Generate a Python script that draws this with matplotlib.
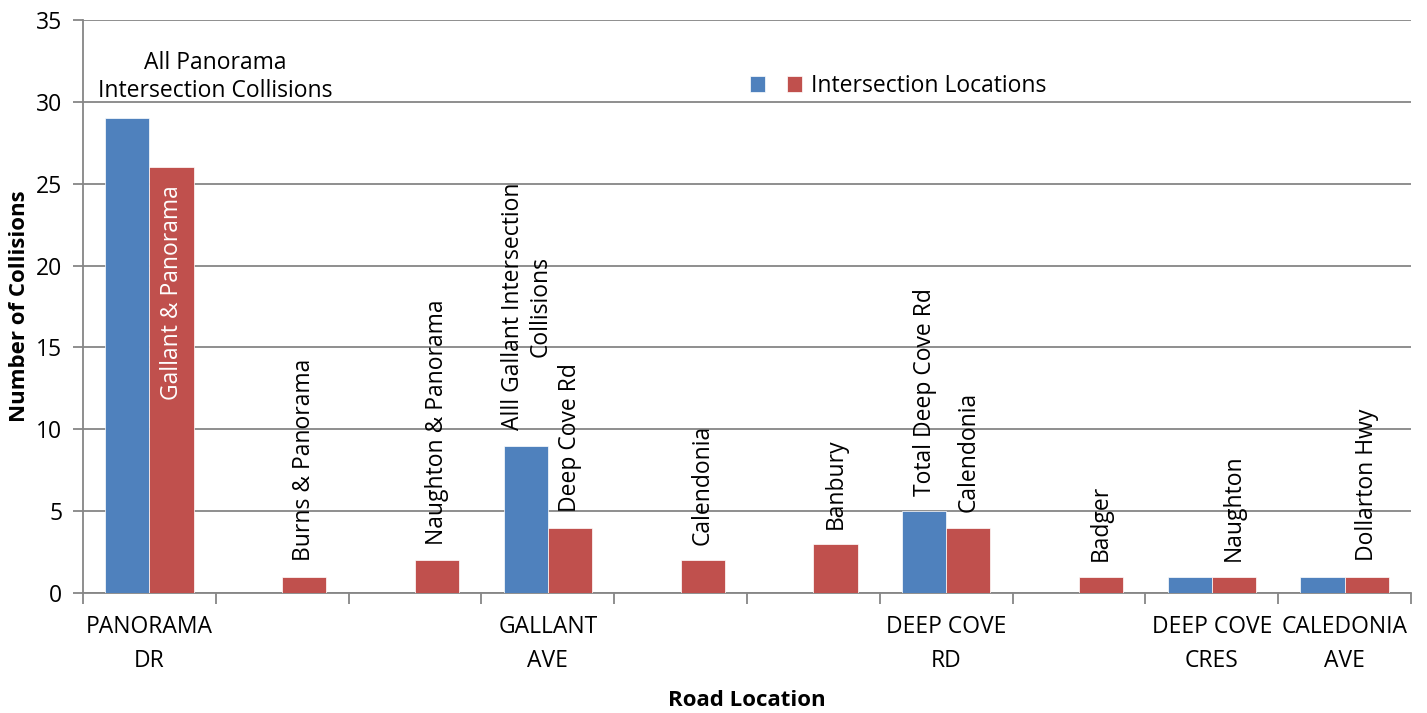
import matplotlib
matplotlib.use("Agg")
import matplotlib.pyplot as plt
import numpy as np

categories = ["PANORAMA\nDR", "", "", "GALLANT\nAVE", "", "", "DEEP COVE\nRD", "", "DEEP COVE\nCRES", "CALEDONIA\nAVE"]
blue_values = [29, 0, 0, 9, 0, 0, 5, 0, 1, 1]
red_values = [26, 1, 2, 4, 2, 3, 4, 1, 1, 1]
blue_labels = ["All Panorama\nIntersection Collisions", "", "", "Alll Gallant Intersection\nCollisions", "", "", "Total Deep Cove Rd", "", "", ""]
red_labels = ["Gallant & Panorama", "Burns & Panorama", "Naughton & Panorama", "Deep Cove Rd", "Calendonia",
              "Banbury", "Calendonia", "Badger", "Naughton", "Dollarton Hwy"]
legend_label = "Intersection Locations"
y_ticks = [0, 5, 10, 15, 20, 25, 30, 35]

BLUE = "#4F81BD"
RED = "#C0504D"
GRID = "#868686"
FS = 16.5

plt.rcParams['font.family'] = ['Open Sans', 'DejaVu Sans']

fig = plt.figure(figsize=(14.27, 7.13), dpi=100)
ax = fig.add_axes([83/1427, 120/713, (1411-83)/1427, (593-20)/713])

x = np.arange(len(categories))
w = 1/3
bb = ax.bar(x - w/2, blue_values, w, color=BLUE, edgecolor='white', linewidth=0.5, label=" ", zorder=3)
rb = ax.bar(x + w/2, red_values, w, color=RED, edgecolor='white', linewidth=0.5, label=legend_label, zorder=3)

ax.set_xlim(-0.5, len(categories) - 0.5)
ax.set_ylim(0, 35)
ax.set_yticks(y_ticks)
ax.yaxis.grid(True, color=GRID, linewidth=1.3, zorder=0)
ax.set_axisbelow(True)

ax.set_xticks(x)
ax.set_xticklabels(categories, fontsize=FS, linespacing=1.55)
ax.set_xticks(np.arange(len(categories) + 1) - 0.5, minor=True)
ax.tick_params(axis='x', which='major', length=0, pad=16)
ax.tick_params(axis='x', which='minor', length=8, width=1.3, color=GRID)
ax.tick_params(axis='y', length=7, width=1.3, color=GRID, labelsize=FS, pad=8)

for s in ['top', 'right']:
    ax.spines[s].set_visible(False)
for s in ['left', 'bottom']:
    ax.spines[s].set_color(GRID)
    ax.spines[s].set_linewidth(1.3)

# red labels
for i, (v, lab) in enumerate(zip(red_values, red_labels)):
    if v > 15:
        ax.annotate(lab, (x[i] + w/2, v), xytext=(0, -13), textcoords='offset points',
                    rotation=90, ha='center', va='top', fontsize=FS, color='white', zorder=5)
    else:
        ax.annotate(lab, (x[i] + w/2, v), xytext=(0, 11), textcoords='offset points',
                    rotation=90, ha='center', va='bottom', fontsize=FS, color='black', zorder=5)

# blue labels
for i, (v, lab) in enumerate(zip(blue_values, blue_labels)):
    if not lab:
        continue
    if v > 15:
        ax.annotate(lab, (x[i] - w/2, v), xytext=(63, 11), textcoords='offset points',
                    ha='center', va='bottom', fontsize=FS, linespacing=1.2, zorder=5)
    else:
        ax.annotate(lab, (x[i] - w/2, v), xytext=(1, 11), textcoords='offset points',
                    rotation=90, ha='center', va='bottom', fontsize=FS, linespacing=1.2,
                    multialignment='center', zorder=5)

ax.set_ylabel("Number of Collisions", fontsize=16, fontweight='bold', labelpad=4)
ax.set_xlabel("Road Location", fontsize=16, fontweight='bold', labelpad=12)

leg = ax.legend(ncol=2, loc='center', bbox_to_anchor=(898/1427, 1 - 86/713), bbox_transform=fig.transFigure,
                frameon=False, fontsize=FS, handlelength=0.65, handleheight=0.65, handletextpad=0.4,
                columnspacing=0.3)

fig.savefig("out.png", dpi=100, facecolor='white')
